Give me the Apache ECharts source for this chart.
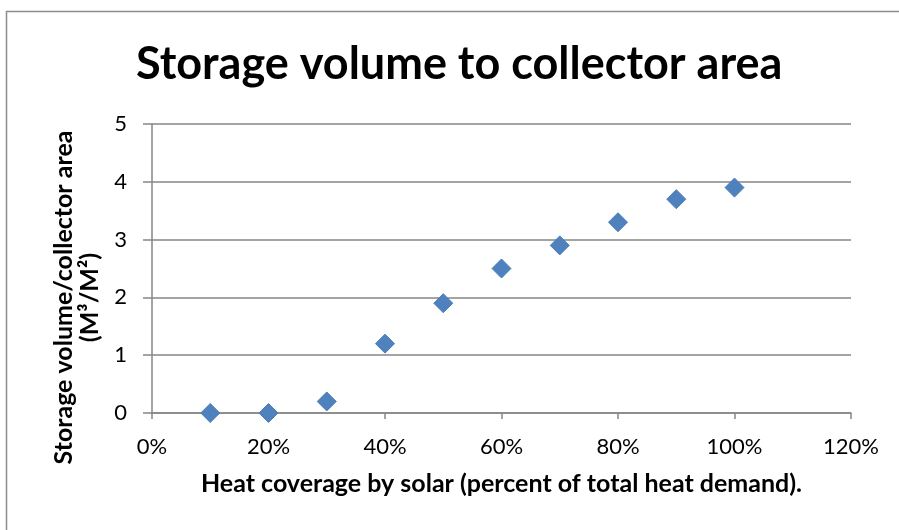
<!DOCTYPE html>
<html><head><meta charset="utf-8">
<script src="https://cdn.jsdelivr.net/npm/echarts@6/dist/echarts.min.js"></script>
<style>html,body{margin:0;padding:0;background:#fff}#c{width:899px;height:530px}</style>
</head><body><div id="c"></div>
<script>
const titleText = 'Storage volume to collector area';
const xName = 'Heat coverage by solar (percent of total heat demand).';
const yName = 'Storage volume/collector area\n(M³/M²)';
const coverage = [0.1, 0.2, 0.3, 0.4, 0.5, 0.6, 0.7, 0.8, 0.9, 1.0];
const ratio = [0, 0, 0.2, 1.2, 1.9, 2.5, 2.9, 3.3, 3.7, 3.9];

const chart = echarts.init(document.getElementById('c'));
chart.setOption({
  animation: false,
  backgroundColor: '#fff',
  graphic: [{type:'rect', shape:{x:6.5, y:11.5, width:900, height:530}, style:{fill:'none', stroke:'#8c8c8c', lineWidth:1.5}}],
  title: {text: titleText, left: 131, top: 37,
    textStyle: {fontFamily: 'Lato', fontWeight: 'bold', fontSize: 45, color: '#000'}},
  grid: {left: 152, right: 48, top: 124, bottom: 117},
  xAxis: {type: 'value', min: 0, max: 1.2, interval: 0.2,
    name: xName, nameLocation: 'middle', nameGap: 58,
    nameTextStyle: {fontFamily: 'Lato', fontWeight: 'bold', fontSize: 25, color: '#000'},
    axisLine: {show: true, lineStyle: {color: '#868686', width: 1.5}},
    axisTick: {show: true, length: 6, lineStyle: {color: '#868686', width: 1.5}},
    splitLine: {show: false},
    axisLabel: {margin: 23, fontFamily: 'Lato', fontSize: 22, color: '#000',
      formatter: v => Math.round(v * 100) + '%'}},
  yAxis: {type: 'value', min: 0, max: 5, interval: 1,
    name: yName, nameLocation: 'middle', nameGap: 39, nameRotate: 90,
    nameTextStyle: {fontFamily: 'Lato', fontWeight: 'bold', fontSize: 25, color: '#000', lineHeight: 26, align: 'center', padding: [0, 58, 0, 0]},
    axisLine: {show: true, lineStyle: {color: '#868686', width: 1.5}},
    axisTick: {show: true, length: 9, lineStyle: {color: '#868686', width: 1.5}},
    splitLine: {show: true, lineStyle: {color: '#868686', width: 1.5}},
    axisLabel: {margin: 25, fontFamily: 'Lato', fontSize: 22, color: '#000'}},
  series: [{type: 'scatter', symbol: 'diamond', symbolSize: 19,
    itemStyle: {color: '#4f81bd', borderColor: '#4a7ebb', borderWidth: 1, opacity: 1},
    data: coverage.map((c, i) => [c, ratio[i]])}]
});
</script></body></html>
